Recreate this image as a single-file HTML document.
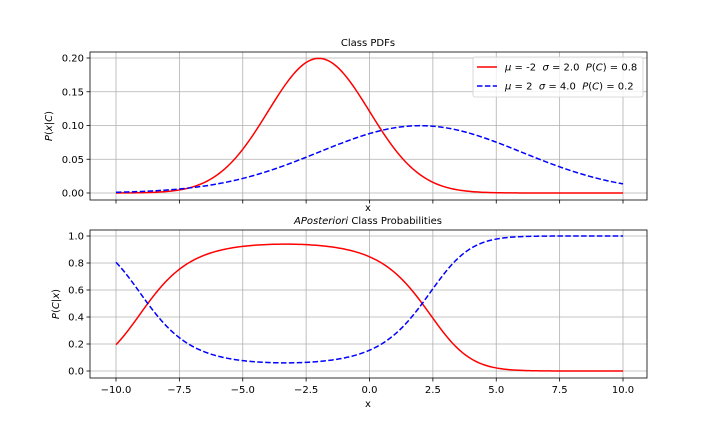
<!DOCTYPE html>
<html><head><meta charset="utf-8"><style>
body{margin:0;background:#fff;}
svg text{font-family:"DejaVu Sans","Liberation Sans",sans-serif;}
</style></head><body>
<svg id="c" width="720" height="432" xmlns="http://www.w3.org/2000/svg"></svg>
<script>
const classMeans=[-2,2];
const classSigmas=[2.0,4.0];
const classPriors=[0.8,0.2];
const classColors=['#ff0000','#0000ff'];
const xTicks=[-10,-7.5,-5,-2.5,0,2.5,5,7.5,10];
const xTickLabels=['−10.0','−7.5','−5.0','−2.5','0.0','2.5','5.0','7.5','10.0'];
const topYTicks=[0,0.05,0.10,0.15,0.20];
const topYLabels=['0.00','0.05','0.10','0.15','0.20'];
const botYTicks=[0,0.2,0.4,0.6,0.8,1.0];
const botYLabels=['0.0','0.2','0.4','0.6','0.8','1.0'];
const xMin=-10,xMax=10,nPts=201;

const svg=document.getElementById('c');
const NS='http://www.w3.org/2000/svg';
function mk(t,a,p){const e=document.createElementNS(NS,t);for(const k in a)e.setAttribute(k,a[k]);(p||svg).appendChild(e);return e;}
const L=90,R=647;
const xs=v=>116+(v+10)*(623-116)/20;
const topY=v=>193-v*(193-58)/0.2;
const botY=v=>371-v*(371-236);
function pdf(x,m,s){return Math.exp(-0.5*((x-m)/s)**2)/(s*Math.sqrt(2*Math.PI));}

function axes(name,y0,y1,yf,yt,yl,showXLabels){
  const g=mk('g',{});
  
  
  xTicks.forEach((t,i)=>{
    const l=mk('line',{x1:xs(t),x2:xs(t),y1:y0,y2:y1,stroke:'#b0b0b0','stroke-width':0.8},g);
    
    mk('line',{x1:xs(t),x2:xs(t),y1:y1,y2:y1+3.5,stroke:'#000','stroke-width':0.8},g);
    if(showXLabels){const tx=mk('text',{x:xs(t),y:y1+15,'font-size':10,'text-anchor':'middle'},g);tx.textContent=xTickLabels[i];
      }
  });
  yt.forEach((t,i)=>{
    const l=mk('line',{x1:L,x2:R,y1:yf(t),y2:yf(t),stroke:'#b0b0b0','stroke-width':0.8},g);
    
    mk('line',{x1:L-3.5,x2:L,y1:yf(t),y2:yf(t),stroke:'#000','stroke-width':0.8},g);
    const tx=mk('text',{x:L-6,y:yf(t)+3.5,'font-size':10,'text-anchor':'end'},g);tx.textContent=yl[i];
    
  });
  return g;
}
axes('top-axes',52,200,topY,topYTicks,topYLabels,false);
axes('bottom-axes',230,378,botY,botYTicks,botYLabels,true);

const xsamp=[];for(let i=0;i<nPts;i++)xsamp.push(xMin+(xMax-xMin)*i/(nPts-1));
const pdfs=classMeans.map((m,k)=>xsamp.map(x=>pdf(x,m,classSigmas[k])));
const posts=classMeans.map((m,k)=>xsamp.map((x,i)=>{
  let tot=0;classMeans.forEach((mm,j)=>tot+=pdfs[j][i]*classPriors[j]);
  return pdfs[k][i]*classPriors[k]/tot;}));
function path(arr,yf,k,name){
  const d=arr.map((v,i)=>(i?'L':'M')+xs(xsamp[i]).toFixed(2)+' '+yf(v).toFixed(2)).join(' ');
  const p=mk('path',{d:d,fill:'none',stroke:classColors[k],'stroke-width':1.5,'stroke-dasharray':k?'5.5,2.4':'none'});
  
}
pdfs.forEach((a,k)=>path(a,topY,k,'pdf-class-'+(k+1)));
posts.forEach((a,k)=>path(a,botY,k,'posterior-class-'+(k+1)));

[[52,200],[230,378]].forEach(([a,b])=>{const r=mk('rect',{x:L,y:a,width:R-L,height:b-a,fill:'none',stroke:'#000','stroke-width':0.8});
  });

function txt(x,y,s,attrs,name,html){const t=mk('text',Object.assign({x:x,y:y,'font-size':10,'text-anchor':'middle'},attrs||{}));
  if(html)t.innerHTML=s;else t.textContent=s;return t;}
txt(368,46,'Class PDFs',{},'top-title');
txt(368,224,'<tspan font-style="italic">APosteriori</tspan> Class Probabilities',{},'bottom-title',true);
txt(368,211,'x',{},'top-x-label');
txt(368,407,'x',{},'bottom-x-label');
txt(0,0,'<tspan font-style="italic">P</tspan>(<tspan font-style="italic">x</tspan>|<tspan font-style="italic">C</tspan>)',{transform:'translate(52,126) rotate(-90)'},'top-y-label',true);
txt(0,0,'<tspan font-style="italic">P</tspan>(<tspan font-style="italic">C</tspan>|<tspan font-style="italic">x</tspan>)',{transform:'translate(59,304) rotate(-90)'},'bottom-y-label',true);

const lg=mk('g',{});

mk('rect',{x:473,y:57,width:170,height:40,rx:2,fill:'#fff','fill-opacity':0.8,stroke:'#d0d0d0','stroke-width':0.8},lg);
classMeans.forEach((m,k)=>{
  const y=67+k*19;
  const ln=mk('line',{x1:477,x2:497,y1:y,y2:y,stroke:classColors[k],'stroke-width':1.5,'stroke-dasharray':k?'5.5,2.4':'none'},lg);
  
  const t=mk('text',{x:505,y:y+3.5,'font-size':10},lg);
  t.innerHTML='<tspan font-style="italic">μ</tspan> = '+m+'  <tspan font-style="italic">σ</tspan> = '+classSigmas[k].toFixed(1)+'  <tspan font-style="italic">P</tspan>(<tspan font-style="italic">C</tspan>) = '+classPriors[k];
  t.setAttribute('xml:space','preserve');t.style.whiteSpace='pre';
  
});
</script>
</body></html>
